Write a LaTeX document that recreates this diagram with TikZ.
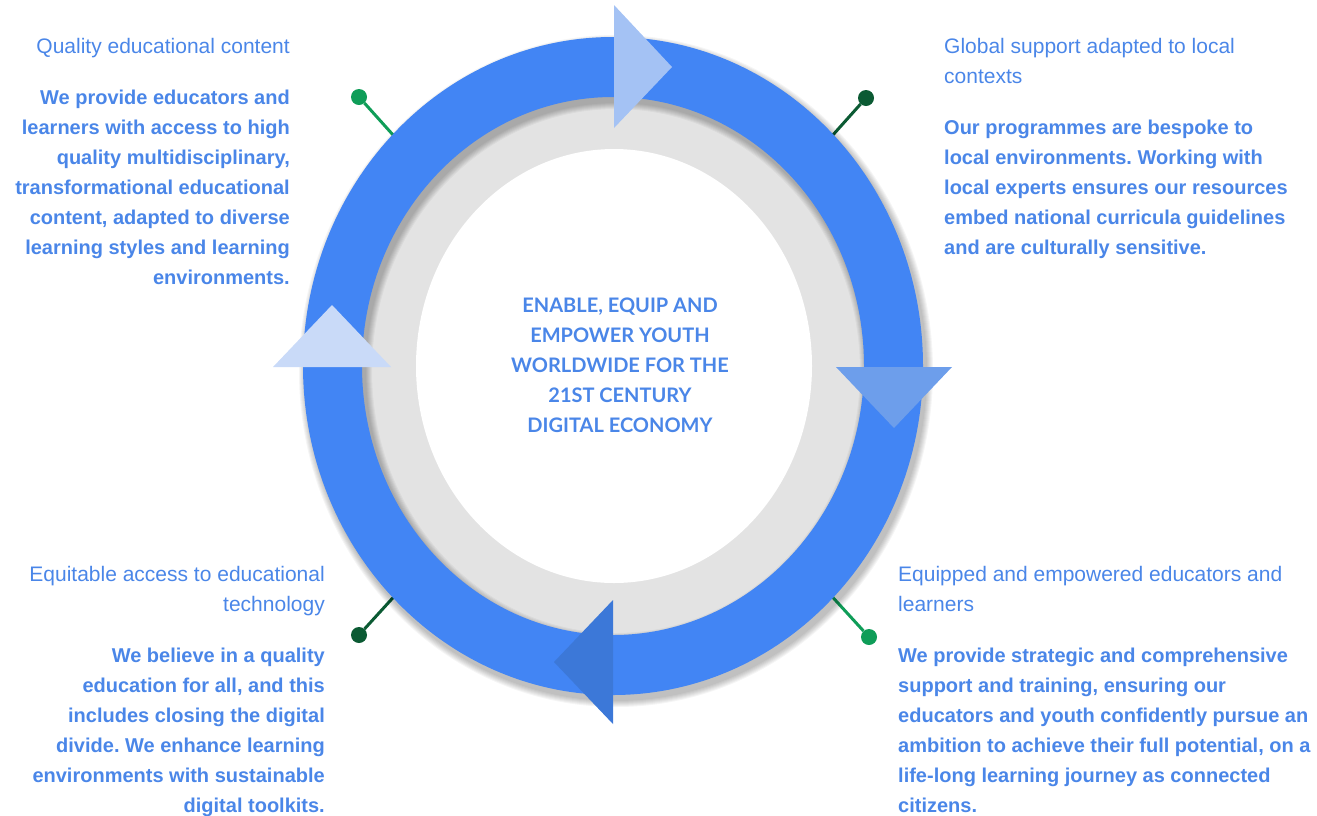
\documentclass[tikz,border=0pt]{standalone}
\usepackage{fontspec}
\setmainfont{Liberation Sans}
\newfontfamily\hubfont{Lato}
\usetikzlibrary{positioning}
\frenchspacing

\definecolor{ringblue}{HTML}{4285F4}
\definecolor{textblue}{HTML}{4A86E8}
\definecolor{ringgray}{HTML}{E3E3E3}
\definecolor{arrowtop}{HTML}{A4C2F4}
\definecolor{arrowright}{HTML}{6D9EEB}
\definecolor{arrowbottom}{HTML}{3C78D8}
\definecolor{arrowleft}{HTML}{C9DAF8}
\definecolor{pinlight}{HTML}{0F9D58}
\definecolor{pindark}{HTML}{0B5A33}

\tikzset{
	headtext/.style={font=\fontsize{21}{30}\selectfont, text=textblue, inner sep=0pt},
	bodytext/.style={font=\bfseries\fontsize{20}{30}\selectfont, text=textblue, inner sep=0pt},
	hubtext/.style={font=\hubfont\bfseries\fontsize{20}{30}\selectfont, text=textblue, inner sep=0pt, align=center},
	pindot/.style={circle, inner sep=0pt, minimum size=16pt, fill=#1},
	pinline/.style={line width=3pt, draw=#1},
}

\begin{document}
\begin{tikzpicture}[x=1pt,y=-1pt]
	\useasboundingbox (0,0) rectangle (1317,815);

	% Pins: a dot with a short line that runs in under the ring
	\node [pindot=pinlight] (pinTL) at (359,97)  {};
	\node [pindot=pindark]  (pinTR) at (866,98)  {};
	\node [pindot=pindark]  (pinBL) at (359,635) {};
	\node [pindot=pinlight] (pinBR) at (869,637) {};
	\coordinate (ringTL) at (420,165);
	\coordinate (ringTR) at (806,165);
	\coordinate (ringBL) at (420,568);
	\coordinate (ringBR) at (806,568);
	\draw [pinline=pinlight] (pinTL) -- (ringTL);
	\draw [pinline=pindark]  (pinTR) -- (ringTR);
	\draw [pinline=pindark]  (pinBL) -- (ringBL);
	\draw [pinline=pinlight] (pinBR) -- (ringBR);

	% Gray ring and white centre
	\fill [ringgray] (613,366) ellipse [x radius=256, y radius=274];
	\fill [white] (614,366) ellipse [x radius=198, y radius=217];

	% Soft shadow of the blue ring, made of a few faint copies
	\foreach \s in {1,...,7} {
		\fill [black, opacity=0.04, even odd rule]
			(616,371) ellipse [x radius=310+\s, y radius=329+\s]
			(616,371) ellipse [x radius=251-\s, y radius=269-\s];
	}

	% The blue ring itself
	\fill [ringblue, even odd rule]
		(613,366) ellipse [x radius=310, y radius=329]
		(613,366) ellipse [x radius=251, y radius=269];

	% Four arrow heads on the ring
	\fill [arrowtop]    (614,5)   -- (672,67)  -- (614,128) -- cycle;
	\fill [arrowright]  (836,367) -- (952,367) -- (894,428) -- cycle;
	\fill [arrowbottom] (613,600) -- (613,724) -- (554,662) -- cycle;
	\fill [arrowleft]   (273,367) -- (391,367) -- (332,305) -- cycle;

	% Centre text
	\node [hubtext] (hub) at (620,365)
		{ENABLE, EQUIP AND\\EMPOWER YOUTH\\WORLDWIDE FOR THE\\21ST CENTURY\\DIGITAL ECONOMY};

	% Top left
	\node [headtext, anchor=north east, align=right] (qualityHead) at (290,38)
		{Quality educational content};
	\node [bodytext, anchor=north east, align=right] (qualityBody) at (290,90)
		{We provide educators and\\learners with access to high\\quality multidisciplinary,\\transformational educational\\content, adapted to diverse\\learning styles and learning\\environments.};

	% Top right
	\node [headtext, anchor=north west, align=left] (globalHead) at (944,38)
		{Global support adapted to local\\contexts};
	\node [bodytext, anchor=north west, align=left] (globalBody) at (944,120)
		{Our programmes are bespoke to\\local environments. Working with\\local experts ensures our resources\\embed national curricula guidelines\\and are culturally sensitive.};

	% Bottom left
	\node [headtext, anchor=north east, align=right] (accessHead) at (325,566)
		{Equitable access to educational\\technology};
	\node [bodytext, anchor=north east, align=right] (accessBody) at (325,648)
		{We believe in a quality\\education for all, and this\\includes closing the digital\\divide. We enhance learning\\environments with sustainable\\digital toolkits.};

	% Bottom right
	\node [headtext, anchor=north west, align=left] (equipHead) at (898,566)
		{Equipped and empowered educators and\\learners};
	\node [bodytext, anchor=north west, align=left] (equipBody) at (898,648)
		{We provide strategic and comprehensive\\support and training, ensuring our\\educators and youth confidently pursue an\\ambition to achieve their full potential, on a\\life-long learning journey as connected\\citizens.};
\end{tikzpicture}
\end{document}
